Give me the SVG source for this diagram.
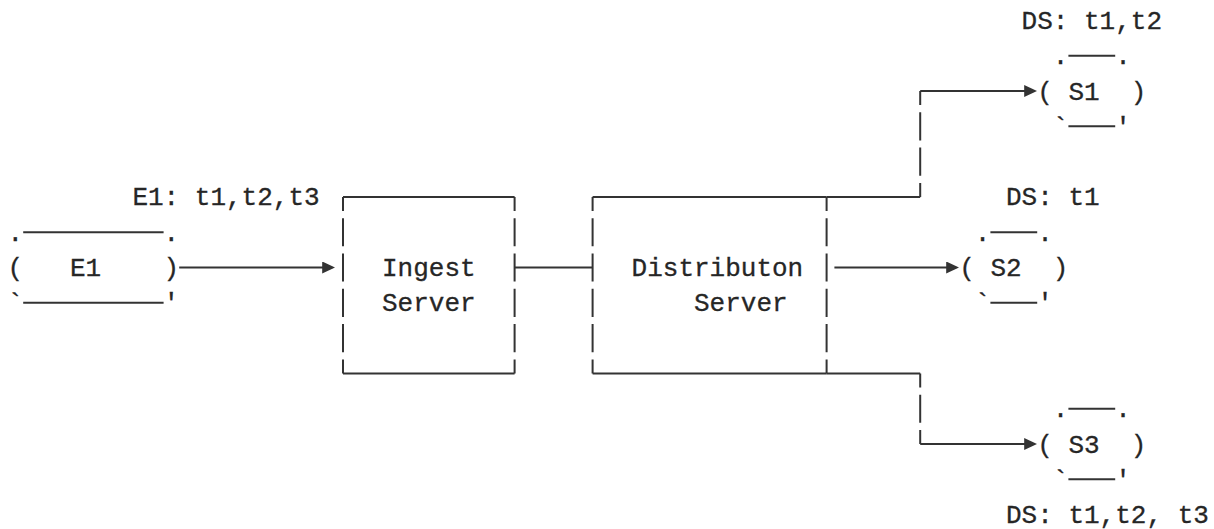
<svg xmlns="http://www.w3.org/2000/svg" width="1214" height="529" viewBox="0 0 1214 529">
  <style>
    text { font-family: "Liberation Mono", "DejaVu Sans Mono", monospace; font-size: 26px; fill: #262626; stroke: #262626; stroke-width: 0.3; }
    .ln { stroke: #333; stroke-width: 2; fill: none; stroke-linecap: butt; }
    .v { stroke: #333; stroke-width: 2; fill: none; stroke-dasharray: 28.1 7.2; stroke-dashoffset: 14; }
  </style>
  <defs>
    <marker id="arr" markerUnits="userSpaceOnUse" markerWidth="13" markerHeight="12" refX="10" refY="6" orient="auto">
      <path d="M0,0 L13,6 L0,12 Z" fill="#333"/>
    </marker>
  </defs>
  <rect width="1214" height="529" fill="#fff"/>

  <!-- E1 source -->
  <g id="e1">
    <text x="132.4" y="205.4">E1: t1,t2,t3</text>
    <text x="7.6" y="240.7">.</text>
    <path class="ln" d="M23.2,232.2 H163.6"/>
    <text x="163.6" y="240.7">.</text>
    <text x="7.6" y="276">(</text>
    <text x="70" y="276">E1</text>
    <text x="163.6" y="276">)</text>
    <text x="7.6" y="311.3">`</text>
    <path class="ln" d="M23.2,302.8 H163.6"/>
    <text x="163.6" y="311.3">'</text>
  </g>

  <!-- Ingest Server -->
  <g id="ingest">
    <path class="ln" d="M343,196.9 H514.6 M343,373.4 H514.6"/>
    <path class="v" d="M343,196.9 V373.4 M514.6,196.9 V373.4"/>
    <text x="382" y="276">Ingest</text>
    <text x="382" y="311.3">Server</text>
  </g>

  <!-- Distribution Server -->
  <g id="distribution">
    <path class="ln" d="M592.6,196.9 H826.6 M592.6,373.4 H826.6"/>
    <path class="v" d="M592.6,196.9 V373.4 M826.6,196.9 V373.4"/>
    <text x="631.6" y="276">Distributon</text>
    <text x="694" y="311.3">Server</text>
  </g>

  <!-- S1 -->
  <g id="s1">
    <text x="1021.6" y="28.9">DS: t1,t2</text>
    <text x="1052.8" y="64.2">.</text>
    <path class="ln" d="M1068.4,55.7 H1115.2"/>
    <text x="1115.2" y="64.2">.</text>
    <text x="1037.2" y="99.5">(</text>
    <text x="1068.4" y="99.5">S1</text>
    <text x="1130.8" y="99.5">)</text>
    <text x="1052.8" y="134.8">`</text>
    <path class="ln" d="M1068.4,126.3 H1115.2"/>
    <text x="1115.2" y="134.8">'</text>
  </g>

  <!-- S2 -->
  <g id="s2">
    <text x="1006" y="205.4">DS: t1</text>
    <text x="974.8" y="240.7">.</text>
    <path class="ln" d="M990.4,232.2 H1037.2"/>
    <text x="1037.2" y="240.7">.</text>
    <text x="959.2" y="276">(</text>
    <text x="990.4" y="276">S2</text>
    <text x="1052.8" y="276">)</text>
    <text x="974.8" y="311.3">`</text>
    <path class="ln" d="M990.4,302.8 H1037.2"/>
    <text x="1037.2" y="311.3">'</text>
  </g>

  <!-- S3 -->
  <g id="s3">
    <text x="1052.8" y="417.2">.</text>
    <path class="ln" d="M1068.4,408.7 H1115.2"/>
    <text x="1115.2" y="417.2">.</text>
    <text x="1037.2" y="452.5">(</text>
    <text x="1068.4" y="452.5">S3</text>
    <text x="1130.8" y="452.5">)</text>
    <text x="1052.8" y="487.8">`</text>
    <path class="ln" d="M1068.4,479.3 H1115.2"/>
    <text x="1115.2" y="487.8">'</text>
    <text x="1006" y="523.1">DS: t1,t2, t3</text>
  </g>

  <!-- Connectors -->
  <g id="connectors">
    <g id="e1-to-ingest">
      <path class="ln" d="M179.2,267.5 H332.2" marker-end="url(#arr)"/>
    </g>
    <g id="ingest-to-distribution">
      <path class="ln" d="M514.6,267.5 H592.6"/>
    </g>
    <g id="distribution-to-s1">
      <path class="ln" d="M826.6,196.9 H920.2"/>
      <path class="v" d="M920.2,91 V196.9"/>
      <path class="ln" d="M920.2,91 H1034.2" marker-end="url(#arr)"/>
    </g>
    <g id="distribution-to-s2">
      <path class="ln" d="M834.4,267.5 H956.2" marker-end="url(#arr)"/>
    </g>
    <g id="distribution-to-s3">
      <path class="ln" d="M826.6,373.4 H920.2"/>
      <path class="v" d="M920.2,373.4 V444"/>
      <path class="ln" d="M920.2,444 H1034.2" marker-end="url(#arr)"/>
    </g>
  </g>
</svg>
